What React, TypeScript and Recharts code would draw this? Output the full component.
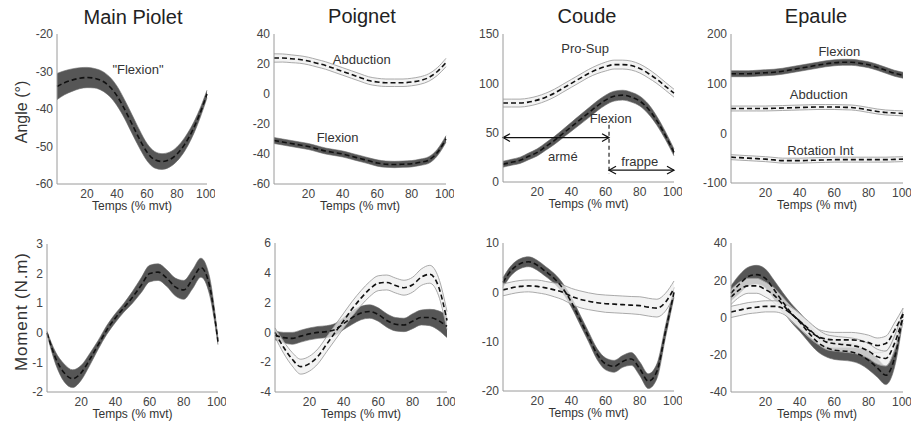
import { ComposedChart, Area, Line, XAxis, YAxis, ReferenceDot, ReferenceLine, Label } from 'recharts'

const FONT = '"Liberation Sans", Arial, sans-serif'

// % of movement, sampled every 5 %
const T = [0, 5, 10, 15, 20, 25, 30, 35, 40, 45, 50, 55, 60, 65, 70, 75, 80, 85, 90, 95, 100]
const X_TICKS = [20, 40, 60, 80, 100]

const TITLES = ['Main Piolet', 'Poignet', 'Coude', 'Epaule']

// ---- angles (°) ----
const piolAngMean = [-34, -33, -32.3, -31.8, -31.6, -31.8, -32.5, -34, -36.5, -40, -44, -48, -51.5, -53.5, -54, -53.5, -52, -49.5, -46, -41.5, -36]
const piolAngSd = [3.5, 3.2, 3.0, 2.8, 2.7, 2.6, 2.6, 2.6, 2.6, 2.5, 2.5, 2.4, 2.3, 2.2, 2.1, 2.0, 1.9, 1.8, 1.6, 1.3, 1.0]

const poigAbdMean = [24, 24, 23.5, 23, 22, 20.5, 19, 17, 15, 13, 11, 9, 8, 7.5, 7.5, 7.5, 8, 9, 11, 15, 21]
const poigAbdSd = [2.8, 2.7, 2.6, 2.5, 2.5, 2.5, 2.5, 2.5, 2.5, 2.5, 2.5, 2.5, 2.5, 2.5, 2.5, 2.5, 2.5, 2.5, 2.5, 2.6, 2.8]
const poigFlxMean = [-31, -32, -33, -34, -35, -36.5, -38, -39, -40, -41.5, -43, -44.5, -46, -46.8, -47, -46.8, -46.5, -45.5, -44, -39, -30]
const poigFlxSd = [2, 2, 2, 2, 2, 2, 2, 2, 2, 2, 2, 2, 2.1, 2.1, 2.1, 2.1, 2.1, 2.1, 2.2, 2.2, 2.2]

const coudProMean = [80, 80, 80, 81, 83, 86, 90, 95, 100, 105, 110, 114, 117, 119, 119, 118, 115, 110, 104, 97, 90]
const coudProSd = [4, 4, 4, 4, 4, 4, 4, 4, 4, 4, 4, 4.2, 4.5, 4.5, 4.5, 4.5, 4.5, 4.5, 4.2, 4, 4]
const coudFlxMean = [18, 20, 22, 26, 30, 36, 42, 49, 56, 63, 70, 77, 83, 87, 88, 86, 82, 74, 62, 47, 30]
const coudFlxSd = [3, 3, 3.2, 3.4, 3.6, 3.8, 4, 4.2, 4.5, 4.8, 5, 5, 5, 5, 5, 5, 5, 5, 4.5, 4, 3.5]

const epAngFlxMean = [120, 120, 120, 121, 122, 123, 125, 128, 131, 134, 137, 140, 142, 143, 143, 141, 138, 133, 127, 121, 117]
const epAngFlxSd = [6, 6, 6, 6, 6, 6, 6, 6, 6, 6, 6, 6, 6, 6, 6, 6, 6, 6, 6, 6, 6]
const epAngAbdMean = [50, 50, 50, 50, 50, 50.5, 51, 51.5, 52, 52.5, 53, 53, 53, 52.5, 52, 50, 47, 44, 42, 41, 40]
const epAngAbdSd = [5, 5, 5, 5, 5, 5, 5, 5, 5, 5, 5, 5, 5, 5, 5, 5, 5, 5, 5, 5, 5]
const epAngRotMean = [-48, -49, -50, -51, -52, -53.5, -55, -55, -55, -54.5, -54, -53.5, -53, -53, -53, -53, -53, -53, -53, -52.5, -52]
const epAngRotSd = [5, 5, 5, 5, 5, 5, 5, 5, 5, 5, 5, 5, 5, 5, 5, 5, 5, 5, 5, 5, 5]

// ---- moments (N.m) ----
const piolMomMean = [0, -0.85, -1.35, -1.55, -1.35, -0.9, -0.4, 0.1, 0.5, 0.85, 1.2, 1.6, 2.0, 2.05, 1.85, 1.55, 1.45, 1.8, 2.2, 1.6, -0.3]
const piolMomSd = [0.05, 0.2, 0.3, 0.3, 0.25, 0.2, 0.15, 0.15, 0.15, 0.15, 0.2, 0.25, 0.28, 0.28, 0.28, 0.3, 0.32, 0.32, 0.32, 0.3, 0.1]

const poigMomDarkMean = [-0.2, -0.35, -0.4, -0.25, -0.1, 0, 0.05, 0.2, 0.6, 1.0, 1.3, 1.4, 1.2, 0.8, 0.55, 0.5, 0.75, 1.0, 1.0, 0.8, 0.4]
const poigMomDarkSd = [0.3, 0.35, 0.4, 0.4, 0.4, 0.4, 0.4, 0.4, 0.4, 0.45, 0.45, 0.45, 0.45, 0.45, 0.45, 0.45, 0.5, 0.5, 0.55, 0.65, 0.75]
const poigMomLightMean = [0, -1.0, -1.8, -2.3, -2.1, -1.6, -0.8, 0, 0.8, 1.6, 2.3, 2.9, 3.3, 3.35, 3.15, 3.0, 3.2, 3.7, 3.9, 3.1, 0.8]
const poigMomLightSd = [0.3, 0.4, 0.45, 0.5, 0.5, 0.5, 0.5, 0.5, 0.5, 0.5, 0.5, 0.5, 0.5, 0.5, 0.5, 0.5, 0.5, 0.55, 0.6, 0.6, 0.6]

const coudMomDarkMean = [2, 4.5, 5.8, 6.2, 5.5, 4.2, 2.8, 0.8, -2, -5.5, -9, -12.5, -14.5, -15, -14, -13.5, -15.5, -18, -16, -8, 0]
const coudMomDarkSd = [1, 1, 1, 1, 1, 1, 1, 1, 1, 1, 1, 1.1, 1.2, 1.2, 1.2, 1.3, 1.4, 1.5, 1.5, 1.2, 1]
const coudMomLightMean = [0.5, 0.9, 1.2, 1.3, 1.2, 0.9, 0.5, 0, -0.8, -1.4, -1.8, -2.1, -2.3, -2.4, -2.5, -2.6, -2.7, -3.0, -3.2, -2.0, 0.8]
const coudMomLightSd = [1.2, 1.2, 1.2, 1.2, 1.3, 1.3, 1.4, 1.5, 1.6, 1.7, 1.7, 1.7, 1.75, 1.75, 1.75, 1.75, 1.8, 1.8, 1.8, 1.8, 1.5]

const epMomDarkMean = [13, 18, 22, 23, 21, 15, 8.5, 2.5, -2.5, -8, -13, -16, -17.5, -18, -18.5, -20, -23, -27, -31, -22, 2]
const epMomDarkSd = [4, 5, 5, 5, 5, 5, 5, 5, 5, 5, 5, 5, 5, 5, 5, 5, 5, 5, 5, 5, 3]
const epMomUpMean = [11, 15, 17, 17, 15, 12, 7, 2, -2, -6.5, -10, -11.5, -12, -12, -12, -12.5, -13.5, -15, -14, -7, 2]
const epMomUpSd = [4, 4, 4, 4, 4, 4, 4, 4, 4, 4, 4, 4, 4, 4, 4, 4, 4, 4, 4, 4, 3]
const epMomLowMean = [3, 4, 5, 5.5, 6, 6, 5, 2, -2, -6, -10, -13, -14, -14.5, -15, -16, -18, -21, -22, -14, 0]
const epMomLowSd = [3, 3, 3, 3, 3, 3, 3, 3.5, 4, 4, 4, 4, 4, 4, 4, 4, 4, 4, 4, 4, 3]

type Band = { mean: number[]; sd: number[]; dark: boolean }

const YW = 40
const PT = 8
const PR = 8
const XH = 34

function buildRows(bands: Band[]) {
  return T.map((x, i) => {
    const row: Record<string, any> = { x }
    bands.forEach((b, k) => {
      row['b' + k] = [b.mean[i] - b.sd[i], b.mean[i] + b.sd[i]]
      row['m' + k] = b.mean[i]
    })
    return row
  })
}

const tickStyle = { fontSize: 12, fill: '#444', fontFamily: FONT }
const noteStyle = { fill: '#333', fontSize: 13, fontFamily: FONT }

function note(x: number, y: number, text: string) {
  return (
    <ReferenceDot key={text + x} x={x} y={y} r={0} stroke="none"
      label={{ value: text, position: 'center', ...noteStyle }} />
  )
}

const DoubleArrow = (p: any) => {
  const { x1, y1, x2, y2 } = p
  const a = 7
  return (
    <g stroke="#111" strokeWidth={1.2} fill="none">
      <line x1={x1} y1={y1} x2={x2} y2={y2} />
      <polyline points={`${x1 + a},${y1 - a * 0.55} ${x1},${y1} ${x1 + a},${y1 + a * 0.55}`} />
      <polyline points={`${x2 - a},${y2 - a * 0.55} ${x2},${y2} ${x2 - a},${y2 + a * 0.55}`} />
    </g>
  )
}

type PanelProps = {
  left: number; top: number; w: number; h: number
  yDomain: [number, number]; yTicks: number[]
  bands: Band[]; children?: any
}

function Panel({ left, top, w, h, yDomain, yTicks, bands, children }: PanelProps) {
  const rows = buildRows(bands)
  const order = bands.map((_, k) => k).sort((a, b) => Number(bands[b].dark) - Number(bands[a].dark))
  return (
    <div style={{ position: 'absolute', left: left - YW, top: top - PT }}>
      <ComposedChart width={w + YW + PR} height={h + PT + XH} data={rows}
        margin={{ top: PT, right: PR, left: 0, bottom: 0 }}>
        <XAxis dataKey="x" type="number" domain={[0, 100]} ticks={X_TICKS} stroke="#9a9a9a"
          tickLine={false} tickSize={0} tickMargin={5} tick={tickStyle} height={XH}>
          <Label value="Temps (% mvt)" position="insideBottom" offset={8} fill="#333" fontSize={12} fontFamily={FONT} />
        </XAxis>
        <YAxis type="number" domain={yDomain} ticks={yTicks} allowDataOverflow width={YW} stroke="#9a9a9a"
          tickLine={false} tickSize={0} tickMargin={4} tick={tickStyle} />
        {order.map((k) => (
          <Area key={'b' + k} dataKey={'b' + k} type="monotone" isAnimationActive={false}
            fill={bands[k].dark ? '#565656' : '#efefef'} fillOpacity={bands[k].dark ? 1 : 0.75}
            stroke={bands[k].dark ? '#6a6a6a' : '#a0a0a0'} strokeWidth={bands[k].dark ? 0.6 : 0.9} />
        ))}
        {order.map((k) => (
          <Line key={'m' + k} dataKey={'m' + k} type="monotone" isAnimationActive={false} dot={false}
            stroke="#111" strokeWidth={1.6} strokeDasharray="5 3" />
        ))}
        {children}
      </ComposedChart>
    </div>
  )
}

export default function App() {
  return (
    <div style={{ position: 'absolute', left: 0, top: 0, width: 912, height: 426, background: '#fff', fontFamily: FONT }}>
      {/* top row: angles */}
      <Panel left={57} top={34} w={150} h={150} yDomain={[-60, -20]} yTicks={[-60, -50, -40, -30, -20]}
        bands={[{ mean: piolAngMean, sd: piolAngSd, dark: true }]}>
        {note(54, -29.5, '"Flexion"')}
      </Panel>
      <Panel left={274} top={34} w={172} h={150} yDomain={[-60, 40]} yTicks={[-60, -40, -20, 0, 20, 40]}
        bands={[{ mean: poigAbdMean, sd: poigAbdSd, dark: false }, { mean: poigFlxMean, sd: poigFlxSd, dark: true }]}>
        {note(51, 23, 'Abduction')}
        {note(37, -29, 'Flexion')}
      </Panel>
      <Panel left={503} top={34} w={171} h={148} yDomain={[0, 150]} yTicks={[0, 50, 100, 150]}
        bands={[{ mean: coudProMean, sd: coudProSd, dark: false }, { mean: coudFlxMean, sd: coudFlxSd, dark: true }]}>
        {note(48, 135, 'Pro-Sup')}
        {note(63, 64, 'Flexion')}
        <ReferenceLine segment={[{ x: 0, y: 45 }, { x: 62, y: 45 }]} shape={DoubleArrow} />
        <ReferenceLine segment={[{ x: 62, y: 58 }, { x: 62, y: 8 }]} stroke="#111" strokeWidth={1.1} strokeDasharray="4 3" />
        <ReferenceLine segment={[{ x: 62, y: 12 }, { x: 100, y: 12 }]} shape={DoubleArrow} />
        {note(35, 26, 'armé')}
        {note(80, 21, 'frappe')}
      </Panel>
      <Panel left={731} top={34} w={172} h={149} yDomain={[-100, 200]} yTicks={[-100, 0, 100, 200]}
        bands={[
          { mean: epAngFlxMean, sd: epAngFlxSd, dark: true },
          { mean: epAngAbdMean, sd: epAngAbdSd, dark: false },
          { mean: epAngRotMean, sd: epAngRotSd, dark: false },
        ]}>
        {note(63, 166, 'Flexion')}
        {note(51, 78, 'Abduction')}
        {note(52, -34, 'Rotation Int')}
      </Panel>

      {/* bottom row: moments */}
      <Panel left={47} top={244} w={171} h={148} yDomain={[-2, 3]} yTicks={[-2, -1, 0, 1, 2, 3]}
        bands={[{ mean: piolMomMean, sd: piolMomSd, dark: true }]} />
      <Panel left={275} top={243} w={172} h={149} yDomain={[-4, 6]} yTicks={[-4, -2, 0, 2, 4, 6]}
        bands={[{ mean: poigMomDarkMean, sd: poigMomDarkSd, dark: true }, { mean: poigMomLightMean, sd: poigMomLightSd, dark: false }]} />
      <Panel left={503} top={243} w={171} h={148} yDomain={[-20, 10]} yTicks={[-20, -10, 0, 10]}
        bands={[{ mean: coudMomDarkMean, sd: coudMomDarkSd, dark: true }, { mean: coudMomLightMean, sd: coudMomLightSd, dark: false }]} />
      <Panel left={731} top={243} w={172} h={149} yDomain={[-40, 40]} yTicks={[-40, -20, 0, 20, 40]}
        bands={[
          { mean: epMomDarkMean, sd: epMomDarkSd, dark: true },
          { mean: epMomUpMean, sd: epMomUpSd, dark: false },
          { mean: epMomLowMean, sd: epMomLowSd, dark: false },
        ]} />

      <svg width={912} height={426} style={{ position: 'absolute', left: 0, top: 0, pointerEvents: 'none' }}>
        <g fontFamily={FONT} fill="#222" fontSize={20} textAnchor="middle">
          <text x={133} y={24}>{TITLES[0]}</text>
          <text x={362} y={23}>{TITLES[1]}</text>
          <text x={587} y={23}>{TITLES[2]}</text>
          <text x={816} y={23}>{TITLES[3]}</text>
        </g>
        <text x={0} y={0} transform="translate(27,112) rotate(-90)" textAnchor="middle" fontFamily={FONT} fontSize={16} fill="#333">Angle (°)</text>
        <text x={0} y={0} transform="translate(27,312) rotate(-90)" textAnchor="middle" fontFamily={FONT} fontSize={17} fill="#333"
          textLength={118} lengthAdjust="spacing">Moment (N.m)</text>
      </svg>
    </div>
  )
}
